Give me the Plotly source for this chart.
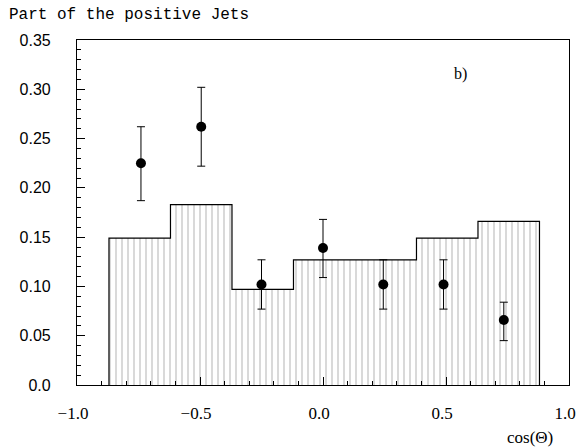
import plotly.graph_objects as go

# Histogram (prediction) bin edges and heights
bin_edges = [-0.87, -0.62, -0.37, -0.12, 0.13, 0.38, 0.63, 0.88]
bin_heights = [0.149, 0.183, 0.097, 0.127, 0.127, 0.149, 0.166]

# Data points with asymmetric errors
pt_x = [-0.74, -0.495, -0.25, 0.0, 0.245, 0.49, 0.735]
pt_y = [0.225, 0.262, 0.102, 0.139, 0.102, 0.102, 0.066]
err_up = [0.037, 0.040, 0.025, 0.029, 0.025, 0.025, 0.018]
err_down = [0.038, 0.040, 0.025, 0.030, 0.025, 0.025, 0.021]

y_tickvals = [0.0, 0.05, 0.10, 0.15, 0.20, 0.25, 0.30, 0.35]
y_ticktext = ["0.0", "0.05", "0.10", "0.15", "0.20", "0.25", "0.30", "0.35"]
x_tickvals = [-1.0, -0.5, 0.0, 0.5, 1.0]
x_ticktext = ["\u22121.0", "\u22120.5", "0.0", "0.5", "1.0"]

centers = [(a + b) / 2 for a, b in zip(bin_edges[:-1], bin_edges[1:])]
widths = [b - a for a, b in zip(bin_edges[:-1], bin_edges[1:])]

fig = go.Figure()

fig.add_trace(go.Bar(
    x=centers, y=bin_heights, width=widths,
    marker=dict(color="white", line=dict(width=0),
                pattern=dict(shape="|", size=6, solidity=0.17,
                             fgcolor="#6a6a6a", bgcolor="white")),
    showlegend=False, hoverinfo="skip",
))

step_x = [bin_edges[0]] + bin_edges
step_y = [0] + bin_heights + [0]
fig.add_trace(go.Scatter(
    x=step_x, y=step_y, mode="lines", line=dict(shape="hv", color="black", width=1.2),
    showlegend=False, hoverinfo="skip",
))

fig.add_trace(go.Scatter(
    x=pt_x, y=pt_y, mode="markers",
    marker=dict(color="black", size=10, symbol="circle"),
    error_y=dict(type="data", array=err_up, arrayminus=err_down,
                 color="black", thickness=1, width=4),
    showlegend=False,
))

fig.update_layout(
    width=578, height=448,
    margin=dict(l=77, r=9, t=40, b=63, autoexpand=False),
    paper_bgcolor="white", plot_bgcolor="white",
    bargap=0,
    xaxis=dict(
        range=[-1.0, 1.0], showgrid=False, zeroline=False, automargin=False,
        showline=True, linecolor="black", linewidth=1.2, mirror=True,
        ticks="inside", ticklen=8, tickcolor="black",
        tickvals=x_tickvals, ticktext=x_ticktext,
        tickfont=dict(family="Liberation Serif", size=17, color="black"),
        ticklabelstandoff=12, ticklabelshift=-4, ticklabeloverflow="allow",
        minor=dict(ticks="inside", ticklen=4, dtick=0.1, tickcolor="black", showgrid=False),
    ),
    yaxis=dict(
        range=[0.0, 0.35], showgrid=False, zeroline=False, automargin=False,
        showline=True, linecolor="black", linewidth=1.2, mirror=True,
        ticks="inside", ticklen=8, tickcolor="black",
        tickvals=y_tickvals, ticktext=y_ticktext,
        tickfont=dict(family="Liberation Sans", size=16, color="black"),
        ticklabelstandoff=22,
        minor=dict(ticks="inside", ticklen=4, dtick=0.01, tickcolor="black", showgrid=False),
    ),
    annotations=[
        dict(text="Part of the positive Jets", xref="paper", yref="paper",
             x=-0.142, y=1.103, xanchor="left", yanchor="top", showarrow=False,
             font=dict(family="Liberation Mono", size=16, color="black")),
        dict(text="b)", xref="x", yref="y", x=0.56, y=0.316,
             xanchor="center", yanchor="middle", showarrow=False,
             font=dict(family="Liberation Serif", size=16, color="black")),
        dict(text="cos(\u0398)", xref="paper", yref="paper", x=0.92, y=-0.151,
             xanchor="center", yanchor="middle", showarrow=False,
             font=dict(family="Liberation Serif", size=17, color="black")),
    ],
)

fig.write_html("out.html")
